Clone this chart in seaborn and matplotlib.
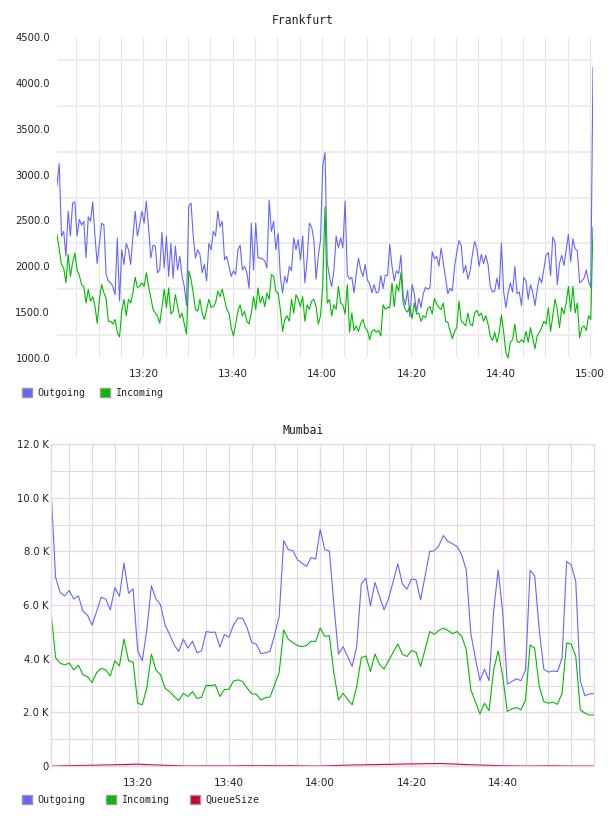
import pandas as pd
import seaborn as sns
import matplotlib.pyplot as plt
import matplotlib.dates as mdates
import matplotlib.ticker as mticker
from matplotlib.patches import Patch

# Frankfurt, one sample every 30 s starting 13:00:40
frankfurt_out = [
    2880, 3120, 2330, 2380, 2110, 2600, 2330, 2690, 2700, 2330,
    2510, 2450, 2490, 2090, 2540, 2490, 2700, 2330, 2030, 2250,
    2470, 2450, 1910, 1840, 1820, 1780, 1690, 2310, 1620, 2180,
    2020, 2250, 2180, 2020, 2330, 2600, 2330, 2450, 2600, 2470,
    2710, 2420, 2090, 2230, 2220, 1930, 1960, 2370, 1980, 2330,
    1890, 2250, 1870, 2220, 1960, 2110, 1890, 1780, 1570, 2650,
    2690, 2330, 2090, 2180, 2130, 1930, 2020, 1840, 2250, 2180,
    2380, 2330, 2600, 2430, 2490, 2070, 2110, 2000, 1890, 1950,
    1910, 2180, 2230, 1960, 2000, 1930, 1760, 2470, 1960, 2470,
    2090, 2090, 2080, 2060, 1980, 2720, 2380, 2490, 2180, 2360,
    1890, 1710, 1890, 1820, 2000, 1950, 2310, 2180, 2290, 2070,
    2330, 1820, 2070, 2470, 2430, 2290, 1860, 2110, 2290, 3100,
    3240, 2040, 1890, 1780, 1960, 2330, 2200, 2310, 2200, 2710,
    1910, 1860, 1880, 1710, 1920, 2090, 1960, 1890, 2020, 1850,
    1810, 1710, 1800, 1710, 1720, 1900, 1760, 1900, 1900, 2240,
    2000, 1840, 1950, 1920, 2120, 1670, 1580, 1740, 1450, 1800,
    1700, 1500, 1650, 1550, 1700, 1770, 1750, 1765, 2160, 2080,
    2110, 2000, 2200, 2030, 1870, 1700, 1760, 1730, 1990, 2150,
    2280, 2230, 1930, 2010, 1860, 1950, 2130, 2270, 2190, 2000,
    2130, 2030, 2120, 2020, 1780, 1720, 1730, 1870, 1750, 2250,
    1720, 1550, 1710, 1820, 1720, 2000, 1700, 1720, 1570, 1880,
    1840, 1640, 1800, 1720, 1570, 1740, 1880, 1820, 1970, 2120,
    2150, 1900, 2320, 2260, 1800, 2030, 2120, 2010, 2180, 2350,
    2050, 2300, 2190, 2170, 1820, 1840, 1870, 1960, 1830, 1770,
    4170,
]
frankfurt_in = [
    2345, 2180, 2020, 1980, 1820, 2130, 1890, 2040, 2145, 1960,
    1900, 1800, 1780, 1600, 1750, 1620, 1670, 1565, 1380, 1640,
    1800, 1710, 1650, 1400, 1400, 1370, 1420, 1280, 1230, 1510,
    1640, 1460, 1640, 1600, 1710, 1880, 1770, 1780, 1820, 1780,
    1930, 1780, 1660, 1530, 1490, 1460, 1380, 1550, 1750, 1550,
    1765, 1480, 1510, 1690, 1560, 1440, 1490, 1370, 1260, 1950,
    1860, 1710, 1530, 1510, 1640, 1490, 1420, 1530, 1640, 1550,
    1560, 1600, 1730, 1670, 1750, 1640, 1530, 1490, 1330, 1240,
    1370, 1510, 1580, 1460, 1510, 1400, 1370, 1490, 1670, 1530,
    1765, 1600, 1670, 1560, 1710, 1640, 1910, 1890, 1730, 1710,
    1530, 1290, 1420, 1460, 1400, 1640, 1490, 1690, 1640, 1560,
    1670, 1400, 1580, 1530, 1620, 1640, 1560, 1370, 1460, 1800,
    2650, 1600, 1640, 1460, 1580, 1530, 1780, 1600, 1580, 1480,
    1800, 1280, 1490, 1300, 1350, 1290, 1380, 1420, 1330, 1300,
    1200, 1290, 1310, 1280, 1300, 1240, 1580, 1530, 1550, 1550,
    1820, 1560, 1800, 1730, 1930, 1600, 1530, 1500, 1560, 1430,
    1600, 1480, 1490, 1400, 1460, 1440, 1540, 1560, 1480, 1650,
    1590, 1550, 1530, 1600, 1400, 1390, 1300, 1210, 1290, 1330,
    1620, 1400, 1380, 1350, 1490, 1370, 1350, 1490, 1520, 1460,
    1490, 1400, 1460, 1370, 1240, 1190, 1280, 1170, 1280, 1470,
    1280, 1060, 1000, 1170, 1200, 1370, 1180, 1170, 1200, 1170,
    1290, 1170, 1330, 1220, 1100, 1240, 1280, 1330, 1400, 1370,
    1550, 1290, 1460, 1640, 1530, 1330, 1550, 1480, 1600, 1780,
    1510, 1780, 1490, 1600, 1220, 1330, 1350, 1300, 1460, 1420,
    2430,
]

# Mumbai, one sample per minute 13:01 - 15:00, values in K
mumbai_out = [
    10.34, 7.04, 6.47, 6.34, 6.54, 6.22, 6.34, 5.77, 5.62, 5.25,
    5.76, 6.29, 6.22, 5.82, 6.65, 6.32, 7.56, 6.44, 6.60, 4.29,
    3.92, 5.07, 6.72, 6.22, 6.01, 5.25, 4.90, 4.51, 4.27, 4.73,
    4.39, 4.65, 4.22, 4.29, 5.01, 4.98, 4.99, 4.43, 4.90, 4.80,
    5.26, 5.51, 5.51, 5.14, 4.60, 4.54, 4.19, 4.22, 4.27, 4.89,
    5.57, 8.40, 8.06, 8.03, 7.69, 7.56, 7.44, 7.77, 7.71, 8.81,
    8.06, 8.02, 6.00, 4.17, 4.45, 4.08, 3.71, 4.45, 6.78, 7.00,
    5.97, 6.84, 6.32, 5.82, 6.26, 6.88, 7.54, 6.79, 6.59, 6.97,
    6.94, 6.19, 7.09, 8.00, 8.02, 8.21, 8.59, 8.37, 8.28, 8.18,
    7.87, 7.31, 4.95, 4.02, 3.18, 3.61, 3.18, 5.76, 7.31, 5.70,
    3.05, 3.15, 3.25, 3.18, 3.58, 7.29, 7.09, 5.07, 3.61, 3.50,
    3.54, 3.52, 4.02, 7.62, 7.50, 6.88, 3.17, 2.62, 2.69, 2.69,
]
mumbai_in = [
    5.76, 4.04, 3.83, 3.77, 3.83, 3.58, 3.76, 3.40, 3.33, 3.11,
    3.48, 3.64, 3.58, 3.36, 3.92, 3.73, 4.73, 3.92, 3.87, 2.34,
    2.28, 2.90, 4.17, 3.58, 3.40, 2.90, 2.77, 2.59, 2.44, 2.71,
    2.59, 2.77, 2.52, 2.56, 3.01, 2.99, 3.03, 2.59, 2.85, 2.86,
    3.17, 3.21, 3.15, 2.90, 2.69, 2.67, 2.46, 2.55, 2.57, 3.02,
    3.49, 5.07, 4.73, 4.60, 4.49, 4.45, 4.49, 4.65, 4.64, 5.14,
    4.83, 4.86, 3.46, 2.46, 2.71, 2.49, 2.28, 2.96, 4.04, 4.10,
    3.52, 4.17, 3.79, 3.61, 3.93, 4.24, 4.55, 4.17, 4.08, 4.30,
    4.24, 3.71, 4.35, 5.01, 4.91, 5.05, 5.14, 5.05, 4.93, 5.01,
    4.83, 4.35, 2.84, 2.40, 1.94, 2.34, 2.06, 3.58, 4.29, 3.33,
    2.03, 2.13, 2.18, 2.09, 2.46, 4.51, 4.39, 2.96, 2.40, 2.34,
    2.38, 2.30, 2.71, 4.58, 4.54, 4.10, 2.09, 1.97, 1.90, 1.90,
]
mumbai_queue = [
    0.00, 0.00, 0.005, 0.01, 0.01, 0.015, 0.02, 0.02, 0.025, 0.03,
    0.03, 0.035, 0.04, 0.04, 0.045, 0.05, 0.05, 0.06, 0.065, 0.07,
    0.06, 0.05, 0.045, 0.04, 0.03, 0.025, 0.02, 0.015, 0.01, 0.005,
    0.00, 0.00, 0.00, 0.005, 0.005, 0.005, 0.005, 0.005, 0.005, 0.005,
    0.005, 0.01, 0.01, 0.015, 0.01, 0.01, 0.01, 0.015, 0.01, 0.01,
    0.01, 0.01, 0.015, 0.01, 0.01, 0.005, 0.005, 0.00, 0.00, 0.00,
    0.005, 0.01, 0.015, 0.02, 0.025, 0.03, 0.035, 0.04, 0.04, 0.045,
    0.05, 0.05, 0.055, 0.06, 0.06, 0.065, 0.07, 0.07, 0.075, 0.075,
    0.08, 0.08, 0.085, 0.085, 0.09, 0.09, 0.085, 0.08, 0.075, 0.07,
    0.06, 0.05, 0.045, 0.04, 0.035, 0.03, 0.025, 0.02, 0.015, 0.01,
    0.01, 0.005, 0.005, 0.00, 0.00, 0.00, 0.00, 0.005, 0.005, 0.01,
    0.01, 0.005, 0.005, 0.00, 0.00, 0.00, 0.00, 0.00, 0.00, 0.00,
]
mumbai_ticks = ["13:20", "13:40", "14:00", "14:20", "14:40"]

series_names = ["Outgoing", "Incoming", "QueueSize"]
series_colors = ["#6666ff", "#00bb00", "#cc0033"]

fra_times = pd.date_range("2020-01-01 13:00:40", periods=len(frankfurt_out), freq="30s")
mum_times = pd.date_range("2020-01-01 13:01", periods=len(mumbai_out), freq="1min")

sns.set_style("white")
plt.rcParams["font.family"] = ["DejaVu Sans"]

fig = plt.figure(figsize=(6.08, 8.16), dpi=100)
W, H = 608, 816
ax1 = fig.add_axes([57 / W, 1 - 358 / H, 536 / W, 321 / H])
ax2 = fig.add_axes([51 / W, 1 - 766 / H, 543 / W, 322 / H])

# ---- Frankfurt
sns.lineplot(x=fra_times, y=frankfurt_out, ax=ax1, color=series_colors[0], linewidth=0.8)
sns.lineplot(x=fra_times, y=frankfurt_in, ax=ax1, color=series_colors[1], linewidth=0.8)
ax1.set_xlim(fra_times[0], fra_times[-1])
ax1.set_ylim(1000, 4500)
for s in ax1.spines.values():
    s.set_visible(False)
ax1.yaxis.set_major_locator(mticker.MultipleLocator(500))
ax1.yaxis.set_minor_locator(mticker.MultipleLocator(250))
ax1.yaxis.set_major_formatter(mticker.FormatStrFormatter("%.1f"))
ax1.xaxis.set_major_locator(mdates.MinuteLocator(byminute=[0, 20, 40]))
ax1.xaxis.set_minor_locator(mdates.MinuteLocator(byminute=range(0, 60, 5)))
ax1.xaxis.set_major_formatter(mdates.DateFormatter("%H:%M"))
ax1.set_axisbelow(True)
ax1.grid(which="minor", axis="y", color="#ededed", linewidth=1.6)
ax1.grid(which="both", axis="x", color="#e6e6e6", linewidth=0.8)
ax1.tick_params(which="both", length=0)
ax1.tick_params(axis="y", pad=5, labelsize=7.2, labelcolor="#222222")
ax1.tick_params(axis="x", pad=8, labelsize=7.5, labelcolor="#222222")
ax1.set_xlabel("")
ax1.set_ylabel("")

# ---- Mumbai
for vals, c in zip([mumbai_out, mumbai_in, mumbai_queue], series_colors):
    sns.lineplot(x=mum_times, y=vals, ax=ax2, color=c, linewidth=0.8)
ax2.set_xlim(mum_times[0], mum_times[-1])
ax2.set_ylim(0, 12)
pink = "#ebd6eb"
for s in ax2.spines.values():
    s.set_color(pink)
    s.set_linewidth(1.0)
ax2.yaxis.set_major_locator(mticker.MultipleLocator(2))
ax2.yaxis.set_minor_locator(mticker.MultipleLocator(1))
ax2.yaxis.set_major_formatter(mticker.FuncFormatter(lambda v, p: "0" if v == 0 else f"{v:.1f} K"))
ax2.set_xticks(pd.to_datetime(["2020-01-01 " + t for t in mumbai_ticks]))
ax2.xaxis.set_minor_locator(mdates.MinuteLocator(byminute=range(0, 60, 5)))
ax2.xaxis.set_major_formatter(mdates.DateFormatter("%H:%M"))
ax2.set_axisbelow(True)
ax2.grid(which="minor", color="#e0dbe0", linewidth=0.8)
ax2.grid(which="major", color=pink, linewidth=1.0)
ax2.tick_params(which="both", length=0)
ax2.tick_params(axis="y", pad=1.5, labelsize=7.2, labelcolor="#222222")
ax2.tick_params(axis="x", pad=9, labelsize=7.5, labelcolor="#222222")
ax2.set_xlabel("")
ax2.set_ylabel("")

# titles
fig.text(0.498, 1 - 20 / H, "Frankfurt", ha="center", va="center",
         family="DejaVu Sans Mono", fontsize=8.3, color="#222222")
fig.text(0.498, 1 - 430 / H, "Mumbai", ha="center", va="center",
         family="DejaVu Sans Mono", fontsize=8.3, color="#222222")

# legends
def make_legend(n, y, colspacing):
    handles = [Patch(facecolor=c, edgecolor="#999999", linewidth=1.0)
               for c in series_colors[:n]]
    fig.legend(handles, series_names[:n], loc="center left", bbox_to_anchor=(22 / W, y),
               ncol=n, frameon=False, handlelength=1.0, handleheight=1.0,
               handletextpad=0.5, columnspacing=colspacing, borderpad=0, borderaxespad=0,
               prop={"family": "DejaVu Sans Mono", "size": 7.2})

make_legend(2, 1 - 393 / H, 1.5)
make_legend(3, 1 - 800 / H, 2.1)

fig.savefig("out.png", dpi=100)
